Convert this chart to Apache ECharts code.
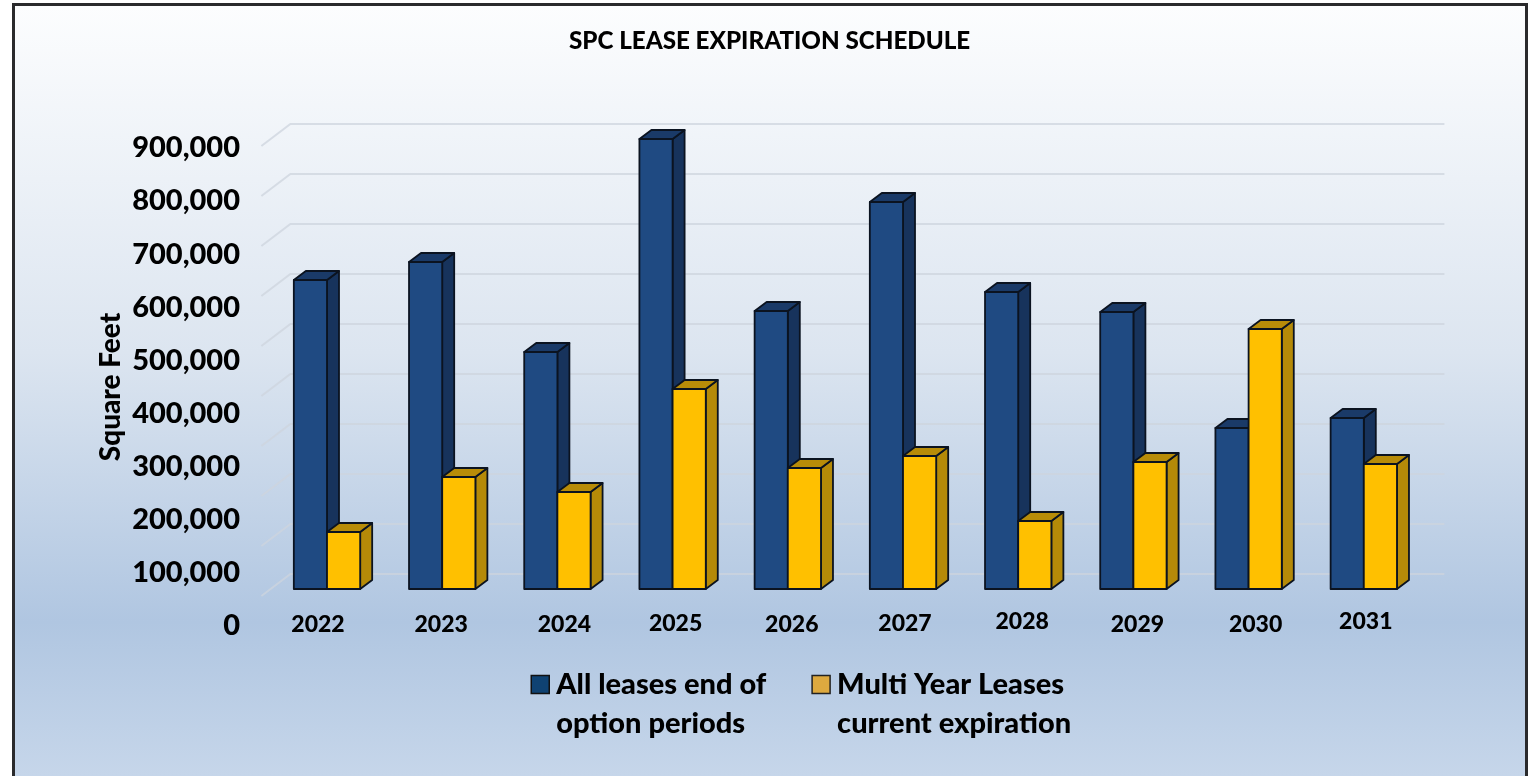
<!DOCTYPE html>
<html>
<head>
<meta charset="utf-8">
<script src="https://cdn.jsdelivr.net/npm/echarts@6/dist/echarts.min.js"></script>
<style>
html, body { margin: 0; padding: 0; background: #fff; }
#frame {
  position: absolute; left: 12px; top: 3px; right: 0; bottom: 0;
  border: solid #2a2a2c; border-width: 3px 3px 0 3px;
  background: linear-gradient(to bottom, #fcfdfe 0%, #dce5f0 45%, #b0c6e1 80%, #c6d6ea 100%);
}
#chart { position: absolute; left: 0; top: 0; width: 1528px; height: 776px; }
</style>
</head>
<body>
<div id="frame"></div>
<div id="chart"></div>
<script>
const years = ['2022', '2023', '2024', '2025', '2026', '2027', '2028', '2029', '2030', '2031']
const allLeases = [618000, 654000, 474000, 900000, 556000, 774000, 594000, 554000, 322000, 342000]
const multiYear = [114000, 224000, 194000, 400000, 242000, 266000, 136000, 254000, 520000, 250000]
const yTicks = [0, 100000, 200000, 300000, 400000, 500000, 600000, 700000, 800000, 900000]

// the year labels sit a little unevenly in the source
const yearNudgeX = [-9, -1, 7, 3, 4, 2, 4, 4, 7, 2]
const yearNudgeY = [0, 0, 0, -1, 0, -1, -3, 0, 0, -3]

const fontName = 'Lato'
const allName = 'All leases end of\noption periods'
const multiName = 'Multi Year Leases\ncurrent expiration'

function boxItem(values, side, face, top, sideColor) {
  return function (params, api) {
    const i = params.dataIndex
    const band = api.size([1, 0])[0]
    const w = band * 0.288
    const base = api.coord([i, 0])
    const head = api.coord([i, values[i]])
    const x0 = side < 0 ? base[0] - w : base[0]
    const x1 = x0 + w
    const dx = 12
    const dy = 9
    const line = { stroke: '#0b1320', lineWidth: 1.8, lineJoin: 'round' }
    return {
      type: 'group',
      children: [
        {
          type: 'polygon',
          shape: { points: [[x1, head[1]], [x1 + dx, head[1] - dy], [x1 + dx, base[1] - dy], [x1, base[1]]] },
          style: { fill: sideColor, ...line }
        },
        {
          type: 'polygon',
          shape: { points: [[x0, head[1]], [x0 + dx, head[1] - dy], [x1 + dx, head[1] - dy], [x1, head[1]]] },
          style: { fill: top, ...line }
        },
        {
          type: 'rect',
          shape: { x: x0, y: head[1], width: w, height: base[1] - head[1] },
          style: { fill: face, ...line }
        }
      ]
    }
  }
}

function gridLineItem(params, api) {
  const p = api.coord([0, yTicks[params.dataIndex]])
  const band = api.size([1, 0])[0]
  const left = p[0] - band / 2
  return {
    type: 'polyline',
    shape: {
      points: [
        [left - 8, p[1] + 7],
        [left + 21, p[1] - 15],
        [left + 1175, p[1] - 15]
      ]
    },
    style: { fill: 'none', stroke: 'rgba(205,212,222,0.75)', lineWidth: 2 }
  }
}

function yearItem(params, api) {
  const i = params.dataIndex
  const p = api.coord([i, 0])
  return {
    type: 'text',
    style: {
      text: years[i],
      x: p[0] + yearNudgeX[i],
      y: p[1] + 36 + yearNudgeY[i],
      align: 'center',
      verticalAlign: 'middle',
      fontFamily: fontName,
      fontWeight: 900,
      fontSize: 23,
      fill: '#000'
    }
  }
}

const chartInstance = echarts.init(document.getElementById('chart'))
chartInstance.setOption({
  animation: false,
  textStyle: { fontFamily: fontName, fontWeight: 'bold', color: '#000' },
  title: {
    text: 'SPC LEASE EXPIRATION SCHEDULE',
    left: 564,
    top: 24,
    textStyle: { fontFamily: fontName, fontWeight: 900, fontSize: 24.2, color: '#000' }
  },
  legend: {
    left: 525.5,
    top: 621,
    itemWidth: 22,
    itemHeight: 18,
    itemGap: 45,
    selectedMode: false,
    formatter: (name) => '\n' + name,
    textStyle: {
      fontFamily: fontName,
      fontWeight: 900,
      fontSize: 29,
      lineHeight: 39,
      color: '#000'
    },
    data: [
      { name: allName, icon: 'path://M0 0H18V18H0Z', itemStyle: { color: '#0f4272', borderColor: '#111', borderWidth: 1.5 } },
      { name: multiName, icon: 'path://M0 0H18V18H0Z', itemStyle: { color: '#dda93f', borderColor: '#222', borderWidth: 1.5 } }
    ]
  },
  grid: [
    // plane the bars stand on
    { left: 269.4, width: 1152, top: 139, bottom: 187 },
    // the value labels in the source are spaced wider than the gridlines
    { left: 240, width: 10, top: 148, bottom: 150 }
  ],
  xAxis: [
    { type: 'category', gridIndex: 0, data: years, show: false },
    { type: 'value', gridIndex: 1, show: false }
  ],
  yAxis: [
    { type: 'value', gridIndex: 0, min: 0, max: 900000, interval: 100000, show: false },
    {
      type: 'value',
      gridIndex: 1,
      min: 0,
      max: 900000,
      interval: 100000,
      name: 'Square Feet',
      nameLocation: 'middle',
      nameGap: 115,
      nameTextStyle: { fontSize: 28, fontWeight: 900, color: '#000', fontFamily: fontName },
      axisLine: { show: false },
      axisTick: { show: false },
      splitLine: { show: false },
      axisLabel: {
        margin: 0,
        fontSize: 29,
        fontWeight: 900,
        color: '#000',
        fontFamily: fontName,
        formatter: (v) => v.toLocaleString('en-US')
      }
    }
  ],
  series: [
    {
      type: 'custom',
      name: 'gridlines',
      silent: true,
      xAxisIndex: 0,
      yAxisIndex: 0,
      data: yTicks,
      renderItem: gridLineItem
    },
    {
      type: 'custom',
      name: allName,
      xAxisIndex: 0,
      yAxisIndex: 0,
      data: allLeases,
      renderItem: boxItem(allLeases, -1, '#1f4a82', '#1a3a68', '#17335c')
    },
    {
      type: 'custom',
      name: multiName,
      xAxisIndex: 0,
      yAxisIndex: 0,
      data: multiYear,
      renderItem: boxItem(multiYear, 1, '#ffc000', '#b88c08', '#b58a08')
    },
    {
      type: 'custom',
      name: 'years',
      silent: true,
      clip: false,
      xAxisIndex: 0,
      yAxisIndex: 0,
      data: years,
      renderItem: yearItem
    }
  ]
})
</script>
</body>
</html>
